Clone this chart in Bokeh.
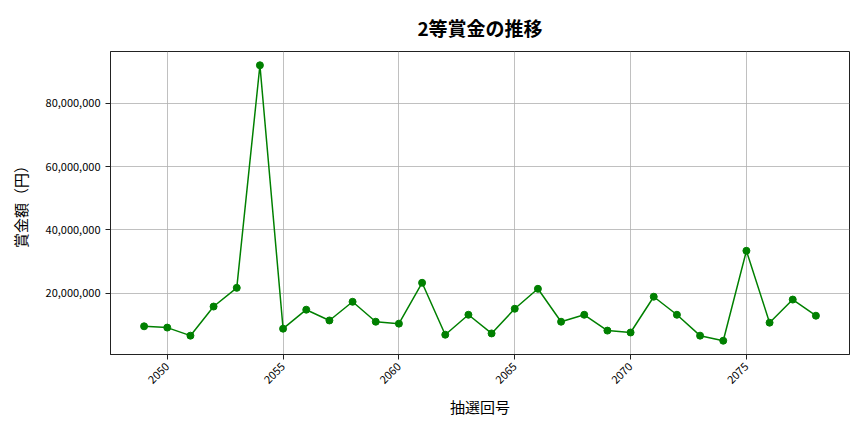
import math
from bokeh.plotting import figure
from bokeh.models import ColumnDataSource, FixedTicker, NumeralTickFormatter, Range1d
from bokeh.embed import file_html
from bokeh.resources import INLINE

draws = list(range(2049, 2079))
prizes = [9560000, 9150000, 6600000, 15800000, 21700000, 92000000, 8800000, 14800000,
          11400000, 17300000, 11000000, 10400000, 23300000, 6900000, 13200000,
          7300000, 15100000, 21400000, 11000000, 13200000, 8200000, 7600000,
          18900000, 13200000, 6600000, 5000000, 33400000, 10700000, 18000000, 12900000]
x_ticks = [2050, 2055, 2060, 2065, 2070, 2075]
y_ticks = [20000000, 40000000, 60000000, 80000000]

FONT = "Noto Sans CJK JP"
src = ColumnDataSource(data=dict(x=draws, y=prizes))

pad_x = (max(draws) - min(draws)) * 0.05
pad_y = (max(prizes) - min(prizes)) * 0.05

p = figure(frame_width=739, frame_height=303, output_backend="svg", toolbar_location=None,
           x_range=Range1d(min(draws) - pad_x, max(draws) + pad_x),
           y_range=Range1d(min(prizes) - pad_y, max(prizes) + pad_y),
           min_border_left=110, min_border_right=6, min_border_top=0, min_border_bottom=70,
           title="2等賞金の推移")
p.title.text_font = FONT
p.title.text_font_size = "19px"
p.title.text_font_style = "bold"
p.title.align = "center"
p.title.text_color = "#000000"
p.title.standoff = 22

p.line("x", "y", source=src, line_color="#008000", line_width=1.5)
p.scatter("x", "y", source=src, size=7, fill_color="#008000", line_color="#008000")

p.xaxis.ticker = FixedTicker(ticks=x_ticks)
p.yaxis.ticker = FixedTicker(ticks=y_ticks)
p.yaxis.formatter = NumeralTickFormatter(format="0,0")
p.xaxis.major_label_orientation = math.pi / 4
p.xaxis.axis_label = "抽選回号"
p.yaxis.axis_label = "賞金額（円）"
for ax in (p.xaxis, p.yaxis):
    ax.axis_label_text_font = FONT
    ax.axis_label_text_font_size = "15px"
    ax.axis_label_text_font_style = "normal"
    ax.axis_label_text_color = "#000000"
    ax.major_label_text_font = FONT
    ax.major_label_text_font_size = "11px"
    ax.major_label_text_color = "#000000"
    ax.minor_tick_line_color = None
    ax.major_tick_out = 5
    ax.major_tick_in = 0
    ax.axis_line_color = "#222222"
    ax.major_tick_line_color = "#222222"
p.xaxis.axis_label_standoff = 6
p.yaxis.axis_label_standoff = 12

p.grid.grid_line_color = "#b0b0b0"
p.grid.grid_line_width = 0.8
p.outline_line_color = "#222222"
p.outline_line_alpha = 1.0
p.background_fill_color = "white"
p.border_fill_color = "white"

open("out.html", "w").write(file_html(p, INLINE))
